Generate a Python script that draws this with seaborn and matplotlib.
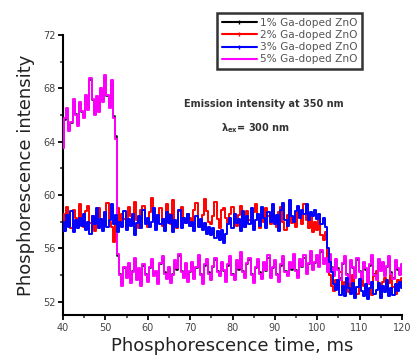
import matplotlib
matplotlib.use("Agg")
import matplotlib.pyplot as plt
from matplotlib.lines import Line2D
from matplotlib.ticker import MultipleLocator
import seaborn as sns
import pandas as pd

# time axis (ms), 0.5 ms sampling
time_ms = [40 + 0.5 * i for i in range(161)]

ga1 = [63.6, 65.6, 66.4, 64.9, 65.4, 67.0, 66.1, 65.3, 66.8, 66.2,
       65.9, 67.3, 66.5, 68.6, 67.1, 66.1, 67.2, 66.3, 67.8, 67.1,
       68.8, 67.4, 66.6, 68.4, 65.9, 64.4, 55.4, 54.1, 53.4, 54.5,
       53.9, 54.7, 53.6, 54.3, 55.1, 53.8, 54.4, 53.4, 54.7, 54.1,
       53.6, 54.5, 55.0, 54.0, 54.2, 53.5, 54.8, 55.2, 54.2, 53.8,
       54.5, 53.6, 54.1, 54.9, 54.4, 55.4, 54.3, 53.9, 54.8, 53.7,
       54.2, 54.9, 53.8, 54.5, 55.3, 54.1, 53.5, 54.7, 55.0, 54.2,
       53.7, 54.6, 55.1, 54.3, 54.0, 54.9, 54.3, 53.7, 54.7, 55.2,
       54.1, 53.8, 54.9, 54.4, 55.5, 54.3, 53.9, 54.8, 55.1, 54.1,
       53.6, 54.5, 55.0, 54.2, 53.8, 54.9, 54.3, 55.3, 53.9, 54.5,
       55.0, 54.1, 53.7, 54.7, 55.2, 54.3, 54.0, 54.9, 54.4, 55.4,
       54.4, 53.9, 55.0, 54.6, 55.3, 54.2, 54.8, 55.6, 54.5, 54.9,
       55.3, 54.7, 55.7, 54.9, 55.2, 54.3, 55.4, 54.6, 54.0, 55.1,
       54.5, 53.8, 54.8, 55.2, 54.1, 53.7, 55.0, 54.5, 53.9, 55.1,
       54.3, 53.8, 54.9, 54.4, 53.6, 54.7, 55.3, 54.1, 53.8, 55.0,
       54.4, 54.9, 54.0, 54.6, 55.2, 54.2, 53.8, 55.0, 54.4, 54.1,
       54.7]

ga2 = [58.6, 57.8, 59.1, 58.0, 57.5, 58.9, 58.3, 57.7, 59.3, 58.1,
       57.6, 58.8, 59.2, 57.9, 58.4, 57.3, 58.7, 59.0, 58.2, 57.8,
       58.5, 59.4, 58.0, 57.6, 56.5, 58.3, 59.0, 57.9, 58.6, 58.2,
       57.7, 59.1, 58.4, 57.8, 59.5, 58.1, 57.5, 58.9, 59.2, 58.0,
       57.6, 58.7, 59.8, 58.3, 57.9, 58.5, 59.0, 57.7, 58.2, 59.3,
       58.6, 57.8, 59.6, 58.0, 57.5, 58.8, 59.1, 58.2, 57.9, 58.6,
       58.3, 57.7, 58.9, 59.4, 58.1, 57.6, 58.5, 59.7, 58.8, 58.0,
       57.8, 58.4, 59.5, 58.2, 57.5, 58.9, 59.0, 58.3, 57.8, 58.6,
       59.1, 58.0, 57.7, 58.5, 59.2, 58.3, 57.6, 58.8, 58.1, 57.9,
       58.7, 59.3, 58.2, 57.5, 58.6, 58.0, 59.0, 58.4, 57.8, 58.9,
       58.2, 57.6, 58.7, 59.1, 58.0, 57.4, 58.5, 58.9, 57.9, 58.3,
       57.6, 59.0, 58.4, 57.8, 59.3, 58.1, 57.5, 58.6, 57.2, 58.0,
       57.4, 58.2, 57.0, 56.6, 57.2, 55.0, 54.0, 53.2, 52.8, 53.6,
       53.1, 54.2, 52.9, 53.5, 53.8, 52.7, 53.4, 54.0, 53.0, 52.6,
       53.6, 54.1, 53.2, 52.8, 53.7, 53.3, 52.5, 53.9, 54.3, 53.0,
       52.7, 53.5, 53.8, 52.9, 53.4, 54.0, 53.1, 52.6, 53.6, 53.2,
       53.8]

ga3 = [58.0, 57.3, 58.5, 57.6, 58.8, 57.2, 58.1, 57.5, 58.3, 57.7,
       58.6, 57.4, 58.0, 57.1, 58.4, 57.8, 59.0, 57.5, 58.2, 57.3,
       58.7, 57.6, 58.1, 59.3, 57.8, 58.5, 57.2, 58.0, 57.6, 58.8,
       57.4, 58.2, 57.7, 58.6, 57.0, 57.9, 58.4, 57.5, 58.9, 57.8,
       58.3, 57.6, 58.0, 59.0, 57.4, 58.5, 57.8, 58.2, 57.3, 58.7,
       57.9, 58.5, 57.2, 58.1, 57.6, 58.9, 57.5, 58.3, 57.9, 58.6,
       57.7, 58.0, 57.3, 58.4, 57.6, 58.2, 57.4, 57.9, 57.1, 57.6,
       57.0, 57.5, 56.8, 57.3, 56.6, 57.4, 56.4, 57.1, 57.8, 58.3,
       57.5, 58.6, 57.9, 58.2, 57.3, 58.8, 57.6, 58.4, 57.8, 59.0,
       57.4, 58.1, 58.6, 57.7, 59.1, 58.3, 57.5, 58.7, 58.0, 59.3,
       57.8, 58.5, 57.3, 58.9, 59.4, 58.1, 57.7, 59.6, 58.4, 58.0,
       58.8, 59.2, 58.3, 58.9, 58.6, 59.3, 58.1, 58.7, 58.4, 58.9,
       58.2, 58.6, 57.8, 58.3, 57.6, 56.0, 55.0, 54.2, 53.3, 52.9,
       53.6, 52.5, 53.2, 52.4, 53.8, 53.0, 52.6, 53.4, 52.3, 53.1,
       53.7, 52.8, 52.4, 53.3, 52.2, 53.0, 53.5, 52.6, 52.9, 53.4,
       52.3, 53.2, 52.7, 53.6, 52.4, 53.0, 52.5, 53.3, 52.8, 53.5,
       53.0]

ga5 = [63.5, 65.8, 66.5, 64.8, 65.5, 67.2, 66.0, 65.2, 67.0, 66.3,
       65.8, 67.5, 66.4, 68.8, 67.2, 66.0, 67.4, 66.2, 68.0, 67.0,
       69.0, 67.5, 66.5, 68.6, 65.8, 64.2, 55.6, 54.0, 53.2, 54.6,
       53.8, 54.9, 53.4, 54.2, 55.3, 53.6, 54.5, 53.2, 54.8, 54.0,
       53.5, 54.6, 55.2, 53.9, 54.3, 53.3, 54.9, 55.4, 54.1, 53.7,
       54.6, 53.4, 54.0, 55.1, 54.5, 55.6, 54.2, 53.8, 54.9, 53.5,
       54.3, 55.0, 53.7, 54.6, 55.5, 54.0, 53.3, 54.8, 55.2, 54.1,
       53.6, 54.7, 55.3, 54.2, 53.9, 55.0, 54.4, 53.5, 54.8, 55.4,
       54.0, 53.6, 55.1, 54.5, 55.7, 54.2, 53.8, 54.9, 55.3, 54.0,
       53.4, 54.6, 55.2, 54.1, 53.7, 55.0, 54.4, 55.5, 53.8, 54.6,
       55.1, 54.0, 53.5, 54.8, 55.4, 54.2, 53.9, 55.0, 54.5, 55.6,
       54.3, 53.8, 55.2, 54.7, 55.5, 54.1, 54.9, 55.8, 54.4, 55.0,
       55.5, 54.6, 55.9, 54.8, 55.3, 54.2, 55.6, 54.5, 53.9, 55.2,
       54.4, 53.6, 54.9, 55.4, 54.0, 53.5, 55.1, 54.6, 53.8, 55.3,
       54.2, 53.7, 55.0, 54.5, 53.4, 54.8, 55.5, 54.0, 53.6, 55.2,
       54.3, 55.0, 53.9, 54.7, 55.4, 54.1, 53.7, 55.1, 54.5, 54.0,
       54.8]

labels = ["1% Ga-doped ZnO", "2% Ga-doped ZnO", "3% Ga-doped ZnO", "5% Ga-doped ZnO"]
colors = ["#000000", "#ff0000", "#0000ff", "#ff00ff"]
series = [ga1, ga2, ga3, ga5]
zorders = [2, 3, 4, 3.5]
widths = [1.1, 1.4, 1.4, 1.4]

sns.set_style("ticks")
plt.rcParams['font.family'] = ['DejaVu Sans']

fig = plt.figure(figsize=(4.18, 3.6), dpi=100)
ax = fig.add_axes([63/418, 1-315/360, (402-63)/418, (315-35)/360])

for vals, col, z, w in zip(series, colors, zorders, widths):
    df = pd.DataFrame({"t": time_ms, "v": vals})
    sns.lineplot(data=df, x="t", y="v", ax=ax, color=col, lw=w,
                 drawstyle="steps-mid", zorder=z, legend=False)

ax.set_xlim(40, 120)
ax.set_ylim(51, 72)
ax.xaxis.set_major_locator(MultipleLocator(10))
ax.xaxis.set_minor_locator(MultipleLocator(5))
ax.yaxis.set_minor_locator(MultipleLocator(2))
ax.set_yticks([52, 56, 60, 64, 68, 72])
ax.tick_params(axis="both", which="major", direction="out", length=3.5, width=1.3,
               labelsize=7, colors="black", labelcolor="#444444", pad=2)
ax.tick_params(axis="both", which="minor", direction="out", length=2.5, width=1.1)
for s in ["top", "right"]:
    ax.spines[s].set_visible(False)
for s in ["left", "bottom"]:
    ax.spines[s].set_linewidth(1.5)
    ax.spines[s].set_color("black")

ax.set_xlabel("Phosphorescence time, ms", fontsize=13, color="#222222", labelpad=3)
ax.set_ylabel("Phosphorescence intensity", fontsize=13, color="#222222", labelpad=6)

ax.text(87.5, 66.8, "Emission intensity at 350 nm", fontsize=7, fontweight="bold",
        color="#333333", ha="center", va="center")
ax.text(85.5, 65.0, r"$\mathbf{\lambda_{ex}}$= 300 nm", fontsize=7, fontweight="bold",
        color="#333333", ha="center", va="center")

handles = [Line2D([0], [0], color=c, lw=1.5, marker="|" if i < 3 else None,
                  markersize=3, markeredgewidth=1)
           for i, c in enumerate(colors)]
leg = fig.legend(handles, labels, loc="upper left",
                 bbox_to_anchor=(212/418, 1-8/360), fontsize=7.6,
                 frameon=True, fancybox=False, handlelength=3.3,
                 handletextpad=0.3, labelspacing=0.2, borderpad=0.45,
                 labelcolor="#555555")
leg.get_frame().set_edgecolor("black")
leg.get_frame().set_linewidth(1.8)

fig.savefig("out.png", dpi=100)
